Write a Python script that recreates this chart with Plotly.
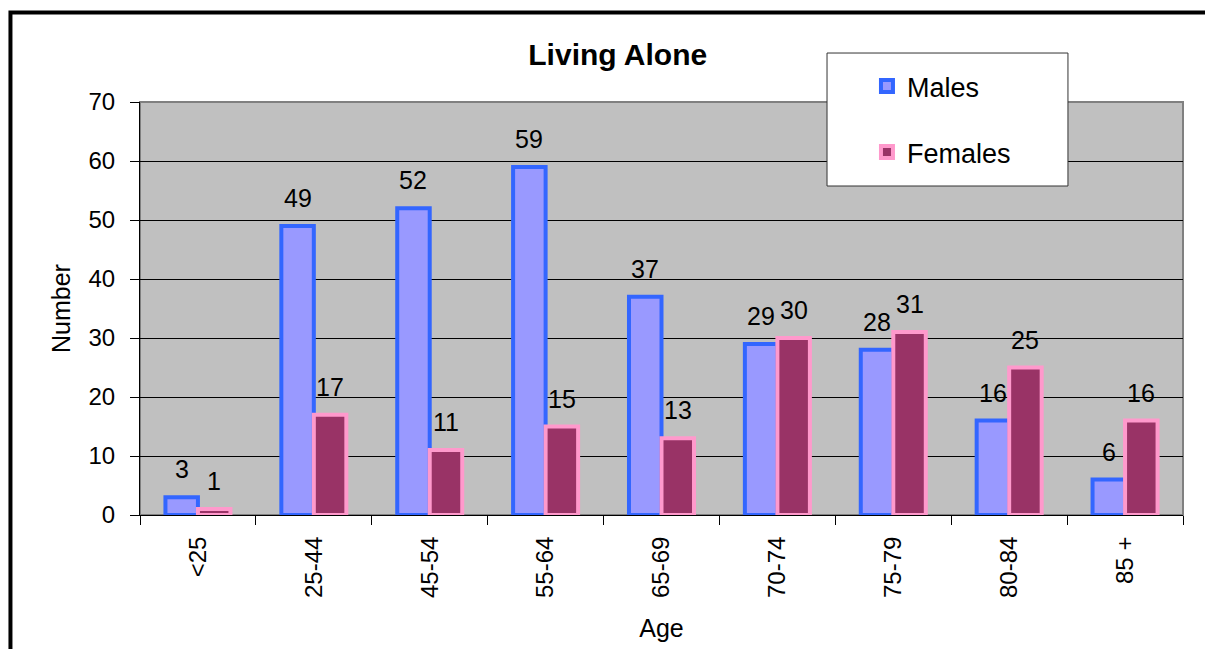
import plotly.graph_objects as go

categories = ["<25", "25-44", "45-54", "55-64", "65-69", "70-74", "75-79", "80-84", "85 +"]
males = [3, 49, 52, 59, 37, 29, 28, 16, 6]
females = [1, 17, 11, 15, 13, 30, 31, 25, 16]

FONT = "Liberation Sans, Arial, sans-serif"

fig = go.Figure()
fig.add_trace(go.Bar(
    x=categories, y=males, name="Males", legendgroup="m",
    marker=dict(color="#9999FF", line=dict(color="#3366FF", width=4)),
))
fig.add_trace(go.Bar(
    x=categories, y=females, name="Females", legendgroup="f",
    marker=dict(color="#993366", line=dict(color="#FF99CC", width=4)),
))

# value labels above bars (positioned via data coordinates)
annotations = []
for series, shift in ((males, -16.3), (females, 16.3)):
    for c, v in zip(categories, series):
        annotations.append(dict(
            x=c, y=v, xref="x", yref="y", text=str(v), showarrow=False,
            xanchor="center", yanchor="bottom", xshift=shift, yshift=12,
            font=dict(size=25, color="black", family=FONT),
        ))

fig.update_layout(
    width=1205, height=641,
    margin=dict(l=132, r=30, t=94, b=134),
    paper_bgcolor="white", plot_bgcolor="#C0C0C0",
    font=dict(family=FONT, size=25, color="black"),
    barmode="group", bargap=0.439, bargroupgap=0,
    title=dict(text="<b>Living Alone</b>", xref="container", x=0.506,
               xanchor="center", yref="container", y=0.9267, yanchor="middle",
               font=dict(size=30, family=FONT)),
    showlegend=True,
    legend=dict(x=0.697, y=1.097, xanchor="left", yanchor="top",
                bgcolor="rgba(0,0,0,0)", borderwidth=0,
                font=dict(size=27, family=FONT), itemwidth=30,
                tracegroupgap=28),
    xaxis=dict(tickangle=-90, showline=True, linecolor="black", linewidth=1,
               ticks="outside", ticklen=9, tickcolor="black", tickson="boundaries",
               tickfont=dict(size=24), showgrid=False, ticklabelstandoff=11,
               title=dict(text="Age", font=dict(size=25), standoff=22)),
    yaxis=dict(range=[0, 70], dtick=10, showline=True, linecolor="black",
               linewidth=1, ticks="outside", ticklen=9, tickcolor="black",
               showgrid=True, gridcolor="black", gridwidth=1,
               tickfont=dict(size=24), zeroline=False, ticklabelstandoff=10,
               title=dict(text="Number", font=dict(size=25), standoff=10)),
    annotations=annotations,
    shapes=[
        dict(type="rect", xref="paper", yref="paper", x0=0, x1=1, y0=0, y1=1,
             line=dict(color="#808080", width=2), layer="between"),
        dict(type="rect", xref="paper", yref="paper", x0=0.6587, x1=0.8897,
             y0=0.7966, y1=1.1186, fillcolor="white",
             line=dict(color="#333333", width=1), layer="above"),
        dict(type="rect", xref="paper", yref="paper", x0=-0.1242, x1=1.2,
             y0=-0.6, y1=1.2167, line=dict(color="black", width=4),
             fillcolor="rgba(0,0,0,0)", layer="above"),
    ],
)

fig.write_html("out.html")
